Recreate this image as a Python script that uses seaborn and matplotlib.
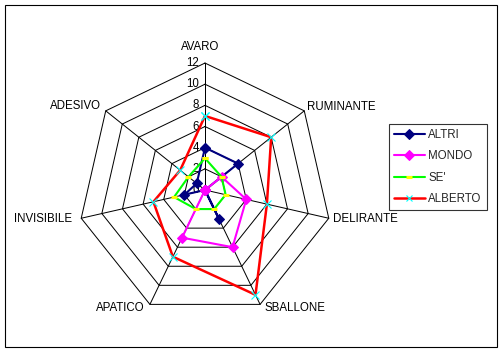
import numpy as np
import pandas as pd
import matplotlib
matplotlib.use("Agg")
import matplotlib.pyplot as plt
import seaborn as sns
from matplotlib.patches import Rectangle

categories = ["AVARO", "RUMINANTE", "DELIRANTE", "SBALLONE", "APATICO", "INVISIBILE", "ADESIVO"]
altri = [4, 4, 0, 3, 0, 2, 1]
mondo = [0, 2, 4, 6, 5, 0, 0]
se = [3, 2, 2, 2, 2, 3, 2]
alberto = [7, 8, 6, 11, 7, 5, 3]
series_names = ["ALTRI", "MONDO", "SE'", "ALBERTO"]
ticks = [0, 2, 4, 6, 8, 10, 12]
rmax = 12

sns.set_theme(style="white")
plt.rcParams['font.family'] = ['Liberation Sans', 'DejaVu Sans']
FS = 8.3

W, H = 504, 352
fig = plt.figure(figsize=(W / 100, H / 100), dpi=100)
fig.patch.set_facecolor("white")

# radar center (px) and scale
cx, cy_top = 205, 190
ppu = 10.58
L = 14
half = L * ppu
ax = fig.add_axes([(cx - half) / W, (H - cy_top - half) / H, 2 * half / W, 2 * half / H])
ax.set_xlim(-L, L)
ax.set_ylim(-L, L)
ax.axis("off")

n = len(categories)
theta = np.deg2rad(90 - np.arange(n) * 360 / n)


def xy(vals):
    v = np.asarray(list(vals) + [vals[0]], dtype=float)
    t = np.concatenate([theta, theta[:1]])
    return v * np.cos(t), v * np.sin(t)


# grid heptagons
for t in ticks[1:]:
    gx, gy = xy([t] * n)
    ax.plot(gx, gy, color="black", lw=0.72, zorder=1)
# spokes
for th in theta:
    ax.plot([0, rmax * np.cos(th)], [0, rmax * np.sin(th)], color="black", lw=0.72, zorder=1)

# tick labels
for t in ticks:
    ax.text(-0.55, t, str(t), ha="right", va="center", fontsize=FS, color="black", zorder=1.5)

# category labels (offsets in px: dx, dy-up)
offs = {
    "AVARO": (-5, 16, "center"),
    "RUMINANTE": (3, 4, "left"),
    "DELIRANTE": (4, -1, "left"),
    "SBALLONE": (4, -4, "left"),
    "APATICO": (-5, -4, "right"),
    "INVISIBILE": (-9, -1, "right"),
    "ADESIVO": (-5, 5, "right"),
}
for k, c in enumerate(categories):
    vx, vy = rmax * np.cos(theta[k]), rmax * np.sin(theta[k])
    dx, dy, ha = offs[c]
    ax.annotate(c, xy=(vx, vy), xytext=(dx * 0.72, dy * 0.72), textcoords="offset points",
                ha=ha, va="center", fontsize=FS, color="black", annotation_clip=False)

styles = {
    "ALTRI": dict(color="#000080", marker="D", markersize=5.5, markerfacecolor="#000080",
                  markeredgecolor="#000080", linewidth=1.5),
    "MONDO": dict(color="#FF00FF", marker="D", markersize=5.5, markerfacecolor="#FF00FF",
                  markeredgecolor="#FF00FF", linewidth=1.5),
    "SE'": dict(color="#00FF00", marker="_", markersize=5, markeredgecolor="#FFFF00",
                markeredgewidth=2.2, linewidth=1.5),
    "ALBERTO": dict(color="#FF0000", marker="x", markersize=5.5, markeredgecolor="#00FFFF",
                    markeredgewidth=0.8, linewidth=1.8),
}
data = {"ALTRI": altri, "MONDO": mondo, "SE'": se, "ALBERTO": alberto}
for i, name in enumerate(series_names):
    sx, sy = xy(data[name])
    df = pd.DataFrame({"x": sx, "y": sy})
    sns.lineplot(data=df, x="x", y="y", sort=False, estimator=None, ax=ax, label=name,
                 zorder=3 + i, **styles[name])

handles, labels = ax.get_legend_handles_labels()
if ax.get_legend() is not None:
    ax.get_legend().remove()
leg = fig.legend(handles, labels, loc="upper left", bbox_to_anchor=(389 / W, 1 - 124 / H),
                 frameon=True, fancybox=False, shadow=False, fontsize=FS,
                 handlelength=2.7, handletextpad=0.3, labelspacing=0.82, borderpad=0.42,
                 borderaxespad=0, markerscale=0.85)
leg.get_frame().set_edgecolor("black")
leg.get_frame().set_linewidth(0.8)

# outer chart border
fig.patches.append(Rectangle((4.5 / W, 1 - 347 / H), (497 - 4.5) / W, (347 - 5) / H,
                             transform=fig.transFigure, fill=False, edgecolor="black", lw=0.8))

fig.savefig("out.png", dpi=100, facecolor="white")
